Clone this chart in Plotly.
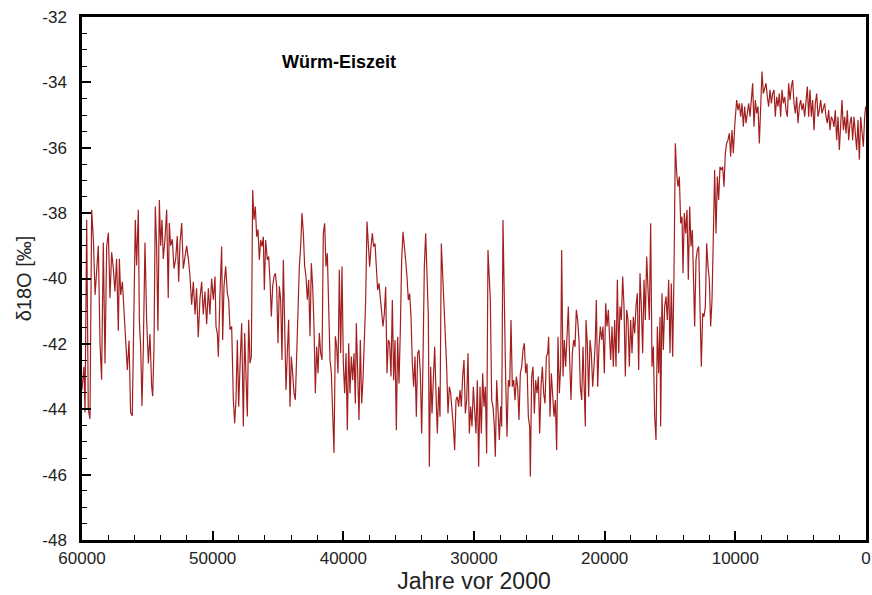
import plotly.graph_objects as go

years = [
    60000, 59850, 59770, 59640, 59520, 59390, 59260, 59130, 59000, 58880, 58750, 58620, 58500, 58370, 58240, 58110,
    57980, 57860, 57730, 57600, 57480, 57350, 57220, 57140, 57040, 56910, 56790, 56660, 56530, 56400, 56280, 56150,
    56020, 55920, 55820, 55690, 55610, 55510, 55410, 55310, 55180, 55050, 54920, 54800, 54670, 54590, 54490, 54390,
    54290, 54190, 54080, 53980, 53880, 53780, 53650, 53520, 53400, 53320, 53220, 53090, 52960, 52830, 52710, 52600,
    52500, 52370, 52250, 52120, 51990, 51860, 51740, 51610, 51480, 51350, 51230, 51100, 50970, 50840, 50720, 50590,
    50460, 50330, 50210, 50080,
    49949, 49821, 49745, 49643, 49566, 49439, 49311, 49235, 49133, 49005, 48878, 48775, 48673, 48546, 48418, 48316,
    48214, 48112, 48010, 47908, 47780, 47653, 47551, 47449, 47347, 47245, 47143, 47041, 46939, 46837, 46735, 46633,
    46531, 46428, 46326, 46224, 46122, 46046, 45944, 45816, 45714, 45612, 45510, 45408, 45306, 45204, 45102, 45000,
    44898, 44796, 44694, 44592, 44490, 44388, 44286, 44184, 44082, 43980, 43878, 43775, 43673, 43571, 43469, 43367,
    43265, 43163, 43061, 42959, 42857, 42755, 42653, 42551, 42449, 42347, 42245, 42143, 42041, 41939, 41837, 41735,
    41633, 41531, 41429, 41327, 41225, 41122, 41020, 40918, 40816, 40714, 40612, 40510, 40408, 40306, 40204, 40102,
    40000,
    39898, 39796, 39694, 39592, 39490, 39388, 39286, 39184, 39082, 39005, 38903, 38801, 38699, 38597, 38495, 38393,
    38291, 38189, 38087, 37985, 37883, 37781, 37678, 37576, 37474, 37372, 37270, 37168, 37066, 36964, 36862, 36760,
    36658, 36556, 36454, 36352, 36250, 36148, 36046, 35944, 35842, 35740, 35638, 35536, 35434, 35332, 35230, 35128,
    35025, 34923, 34821, 34719, 34617, 34515, 34413, 34311, 34209, 34107, 34005, 33903, 33801, 33699, 33597, 33495,
    33418, 33316, 33214, 33112, 33010, 32908, 32806, 32704, 32602, 32500, 32398, 32296, 32194, 32092, 31990, 31888,
    31786, 31684, 31582, 31480, 31378, 31276, 31174, 31071, 30969, 30867, 30765, 30663, 30561, 30459, 30357, 30255,
    30153, 30051, 29949, 29847, 29745,
    29643, 29541, 29439, 29337, 29235, 29133, 29031, 28929, 28826, 28750, 28648, 28546, 28444, 28367, 28265, 28163,
    28061, 27959, 27883, 27781, 27679, 27576, 27474, 27372, 27270, 27168, 27066, 26964, 26862, 26760, 26658, 26556,
    26454, 26352, 26250, 26148, 26046, 25944, 25842, 25740, 25689, 25587, 25485, 25383, 25281, 25179, 25077, 24974,
    24872, 24770, 24668, 24566, 24464, 24362, 24286, 24184, 24082, 23980, 23877, 23775, 23673, 23571, 23469, 23367,
    23291, 23189, 23087, 22985, 22883, 22781, 22679, 22577, 22474, 22372, 22270, 22168, 22066, 21964, 21862, 21760,
    21658, 21556, 21480, 21429, 21327, 21225, 21122, 21020, 20918, 20816, 20714, 20638, 20536, 20434, 20332, 20230,
    20128, 20026, 19924, 19822, 19720, 19618,
    19541, 19439, 19337, 19235, 19132, 19030, 18928, 18826, 18724, 18622, 18520, 18418, 18316, 18214, 18112, 18010,
    17908, 17806, 17704, 17602, 17500, 17398, 17296, 17194, 17092, 16990, 16888, 16786, 16684, 16581, 16479, 16377,
    16275, 16173, 16071, 15969, 15867, 15765, 15714, 15612, 15510, 15408, 15306, 15204, 15102, 15000, 14898, 14796,
    14694, 14592, 14490, 14388, 14286, 14183, 14081, 14005, 13903, 13801, 13699, 13597, 13495, 13393, 13291, 13189,
    13112, 13010, 12908, 12806, 12704, 12602, 12500, 12398, 12296, 12194, 12092, 11990, 11888, 11786, 11684, 11582,
    11480, 11378, 11276, 11174, 11071, 10969, 10867, 10765, 10663, 10561, 10459, 10357, 10255, 10153, 10051,
    9898, 9796, 9694, 9592, 9490, 9388, 9286, 9184, 9082, 8980, 8878, 8776, 8674, 8572, 8469, 8367,
    8265, 8163, 8061, 7959, 7857, 7755, 7653, 7551, 7449, 7347, 7245, 7143, 7041, 6939, 6837, 6735,
    6633, 6531, 6429, 6327, 6225, 6122, 6020, 5918, 5816, 5714, 5612, 5510, 5408, 5306, 5204, 5102,
    5000, 4898, 4796, 4694, 4592, 4490, 4388, 4286, 4184, 4082, 3979, 3877, 3775, 3673, 3571, 3469,
    3367, 3265, 3163, 3061, 2959, 2857, 2755, 2653, 2551, 2449, 2347, 2245, 2143, 2041, 1939, 1837,
    1735, 1633, 1531, 1429, 1327, 1225, 1122, 1020, 918, 816, 714, 612, 510, 408, 306, 204,
    102, 25,
]

d18o = [
    -43.4, -42.7, -44.1, -38.2, -44.0, -44.3, -37.9, -38.8, -40.5, -39.9, -39.0, -42.0, -43.1, -38.9, -42.6, -39.0,
    -38.6, -40.6, -39.2, -39.7, -40.4, -39.4, -41.6, -39.4, -40.5, -40.1, -40.9, -41.9, -42.8, -41.9, -44.1, -44.2,
    -40.9, -38.2, -39.6, -37.9, -41.3, -42.1, -43.9, -42.2, -38.9, -41.3, -42.6, -41.7, -43.3, -43.6, -42.1, -37.8,
    -39.0, -41.6, -37.6, -39.0, -38.2, -39.4, -38.8, -37.9, -40.6, -38.3, -39.0, -38.8, -39.7, -39.4, -38.7, -40.1,
    -38.9, -38.3, -39.7, -39.3, -39.0, -39.4, -39.9, -40.8, -40.1, -41.1, -40.3, -41.8, -40.6, -40.1, -41.1, -40.4,
    -41.4, -40.3, -41.1, -40.0,
    -40.65, -39.94, -41.47, -41.67, -42.39, -40.45, -39.02, -41.88, -40.24, -39.63, -40.45, -40.65, -41.57, -41.47, -43.71, -44.43,
    -43.71, -41.88, -43.92, -42.69, -41.37, -44.53, -41.67, -43.0, -44.22, -41.26, -42.59, -42.39, -37.29, -38.2, -37.8, -38.72,
    -38.5, -39.43, -38.82, -39.02, -38.72, -40.35, -38.82, -39.43, -39.33, -40.04, -41.16, -40.24, -39.94, -39.84, -40.24, -41.98,
    -40.24, -40.65, -42.49, -39.43, -41.47, -43.41, -42.28, -41.26, -43.92, -42.39, -42.9, -43.51, -43.71, -42.49, -40.65, -39.63,
    -39.02, -38.0, -38.61, -39.63, -39.94, -40.65, -40.04, -41.77, -39.53, -40.24, -41.47, -43.51, -42.08, -42.9, -41.67, -42.28,
    -42.49, -38.61, -38.31, -39.63, -39.23, -40.96, -42.49, -42.9, -44.53, -45.34, -41.77, -42.08, -42.9, -39.73, -42.28, -39.63,
    -42.59,
    -43.51, -42.29, -44.64, -41.98, -43.51, -42.39, -43.11, -42.29, -43.82, -41.37, -42.8, -44.33, -41.88, -43.82, -43.11, -42.09,
    -40.66, -38.26, -39.03, -39.64, -39.03, -38.62, -39.03, -38.93, -39.64, -40.35, -40.15, -40.66, -41.17, -41.47, -41.07, -40.25,
    -42.9, -41.88, -41.98, -43.0, -40.66, -43.11, -41.88, -44.64, -41.78, -43.21, -41.58, -39.44, -38.57, -38.93, -39.44, -39.95,
    -40.66, -40.46, -41.17, -42.6, -43.31, -42.39, -44.23, -42.29, -42.19, -42.9, -44.74, -42.49, -39.64, -38.62, -39.64, -41.17,
    -45.76, -42.7, -44.13, -43.11, -42.09, -43.51, -44.74, -43.31, -44.23, -38.93, -39.95, -40.46, -41.47, -42.7, -44.13, -43.31,
    -43.51, -43.92, -44.53, -45.25, -43.72, -43.62, -43.92, -43.41, -43.92, -43.0, -42.49, -44.13, -43.72, -42.29, -44.74, -43.92,
    -44.53, -43.31, -44.13, -44.74, -43.11,
    -45.76, -43.31, -44.74, -42.9, -43.92, -43.31, -45.35, -39.13, -40.25, -40.66, -43.72, -43.92, -44.53, -45.45, -43.11, -44.13,
    -44.94, -43.92, -44.53, -38.21, -41.27, -43.11, -44.84, -43.11, -43.31, -41.27, -43.31, -43.11, -43.72, -43.0, -43.31, -44.33,
    -42.9, -42.7, -42.19, -41.98, -42.9, -42.6, -44.23, -44.53, -46.06, -43.0, -42.7, -44.13, -43.11, -43.51, -43.0, -44.74,
    -43.31, -42.7, -43.51, -43.82, -42.39, -42.29, -41.78, -44.23, -42.9, -43.51, -44.23, -43.72, -45.25, -41.78, -43.51, -42.7,
    -39.13, -43.0, -41.88, -42.7, -41.68, -40.86, -42.49, -43.72, -42.29, -41.88, -42.09, -40.96, -41.27, -41.88, -43.31, -43.72,
    -42.09, -43.31, -44.53, -41.27, -41.98, -43.62, -41.88, -42.29, -43.31, -42.7, -41.88, -40.66, -43.31, -42.09, -41.47, -41.88,
    -41.47, -42.9, -40.76, -41.47, -40.96, -41.88,
    -42.49, -41.47, -42.7, -41.27, -42.7, -40.04, -42.29, -40.86, -41.27, -39.94, -40.86, -43.0, -40.96, -41.27, -42.7, -41.27,
    -42.29, -41.17, -41.68, -40.86, -40.45, -42.8, -39.84, -40.86, -42.29, -40.04, -41.27, -39.33, -40.66, -41.27, -38.31, -42.7,
    -42.08, -44.23, -44.94, -41.47, -42.9, -41.17, -44.53, -40.45, -42.19, -40.86, -40.55, -41.27, -40.04, -42.29, -40.15, -42.39,
    -39.84, -35.86, -36.78, -37.19, -36.88, -38.31, -38.11, -39.84, -38.0, -38.62, -37.9, -40.04, -37.8, -39.02, -38.52, -40.25,
    -41.47, -39.43, -39.13, -39.02, -40.86, -42.7, -41.06, -41.17, -40.86, -38.92, -39.64, -40.04, -41.47, -40.66, -38.72, -36.68,
    -38.62, -36.88, -37.6, -36.58, -36.68, -36.58, -37.19, -36.17, -35.86, -35.76, -35.56, -36.27, -35.46, -36.17, -35.35,
    -34.54, -34.85, -34.64, -35.05, -34.64, -35.36, -34.74, -35.25, -34.85, -34.64, -35.05, -34.64, -34.03, -35.36, -34.54, -34.95,
    -34.74, -35.87, -34.44, -33.67, -34.34, -34.13, -34.03, -34.44, -34.74, -34.23, -34.64, -34.34, -34.23, -35.05, -34.44, -34.74,
    -34.34, -35.05, -34.23, -34.64, -34.44, -34.85, -35.05, -34.03, -34.54, -34.13, -33.93, -34.64, -34.95, -34.44, -35.25, -34.74,
    -34.54, -34.85, -34.64, -35.05, -34.44, -34.13, -35.05, -34.23, -35.05, -34.54, -35.46, -34.64, -34.34, -35.05, -34.85, -34.54,
    -34.95, -34.74, -34.64, -35.05, -35.25, -34.85, -35.46, -35.05, -35.15, -35.36, -34.85, -35.77, -35.05, -36.07, -35.46, -34.54,
    -35.46, -35.05, -35.56, -34.85, -35.77, -35.25, -35.05, -35.77, -35.05, -35.56, -36.07, -35.15, -36.37, -35.05, -35.56, -35.97,
    -35.05, -34.74,
]

y_ticks = [-48, -46, -44, -42, -40, -38, -36, -34, -32]
y_labels = [str(v) for v in y_ticks]
x_ticks = [60000, 50000, 40000, 30000, 20000, 10000, 0]
x_labels = [str(v) for v in x_ticks]

title_text = "Würm-Eiszeit"
x_title = "Jahre vor 2000"
y_title = "δ18O [‰]"

FONT = "Liberation Sans, Arial, Helvetica, sans-serif"

fig = go.Figure()
fig.add_trace(go.Scatter(
    x=years, y=d18o, mode="lines",
    line=dict(color="#a31f1f", width=1.2),
    showlegend=False, hoverinfo="skip",
))

fig.add_annotation(
    x=40300, y=-33.38, xref="x", yref="y",
    text="<b>" + title_text + "</b>", showarrow=False,
    font=dict(family=FONT, size=18, color="black"),
)

axis_common = dict(
    showline=True, linecolor="black", linewidth=2.5, mirror=True,
    showgrid=False, zeroline=False, automargin=False,
    ticks="inside", ticklen=9, tickwidth=2, tickcolor="black",
    tickfont=dict(family=FONT, size=17, color="#222"),
)

fig.update_xaxes(
    range=[60000, 0], tickvals=x_ticks, ticktext=x_labels,
    ticklabelstandoff=1,
    minor=dict(ticks="inside", ticklen=5, tickwidth=1, tickcolor="black", dtick=2000, tick0=0, showgrid=False),
    title=dict(text=x_title, font=dict(family=FONT, size=23, color="#222"), standoff=5),
    **axis_common,
)
fig.update_yaxes(
    range=[-48, -32], tickvals=y_ticks, ticktext=y_labels,
    ticklabelstandoff=9,
    minor=dict(ticks="inside", ticklen=5, tickwidth=1, tickcolor="black", dtick=0.5, tick0=0, showgrid=False),
    title=dict(text=y_title, font=dict(family=FONT, size=20, color="#222"), standoff=6),
    **axis_common,
)

fig.update_layout(
    width=872, height=595,
    margin=dict(l=82, r=6, t=17, b=55),
    plot_bgcolor="white", paper_bgcolor="white",
    font=dict(family=FONT),
)

fig.write_html(
    "out.html",
    config={"displayModeBar": False},
    post_script="document.body.style.margin='0';document.body.style.overflow='hidden';",
)
